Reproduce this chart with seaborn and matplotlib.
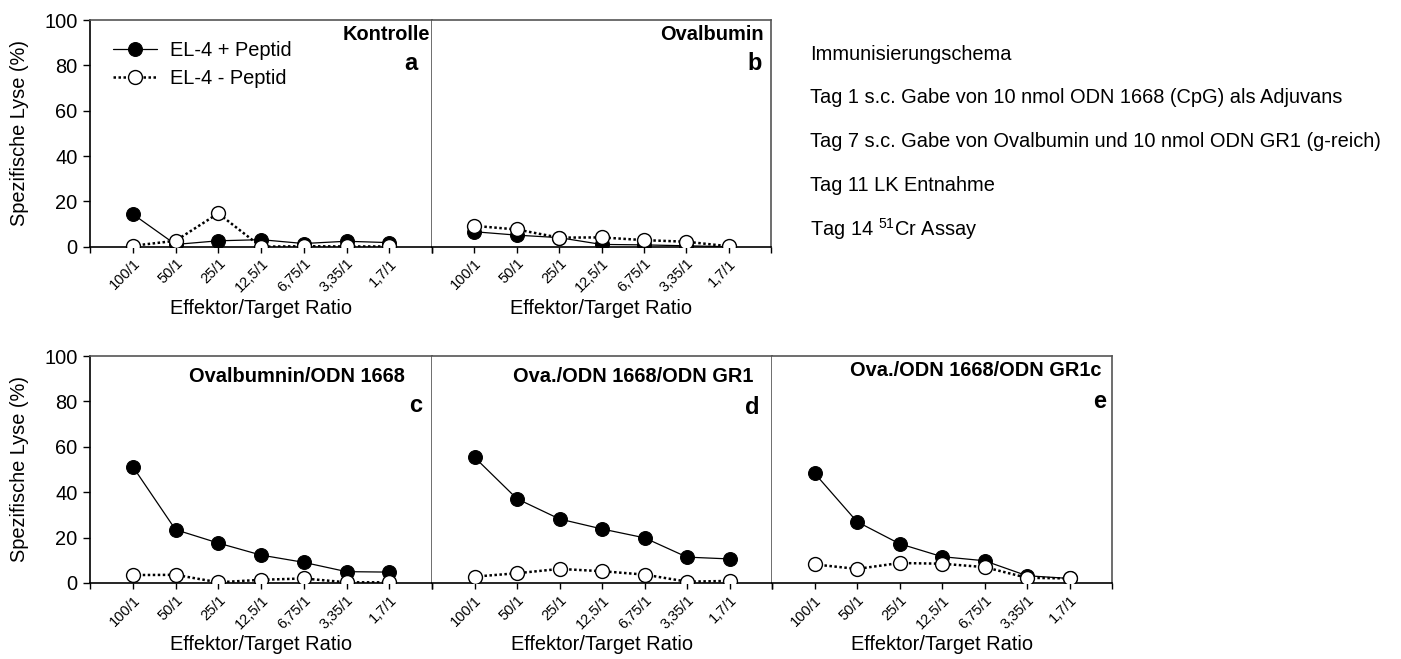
import pandas as pd
import numpy as np
import matplotlib
matplotlib.use("Agg")
import matplotlib.pyplot as plt
import seaborn as sns

sns.set_style("white")
plt.rcParams['font.family'] = ['Liberation Sans', 'DejaVu Sans']
plt.rcParams['mathtext.fontset'] = 'custom'
plt.rcParams['mathtext.rm'] = 'Liberation Sans'
plt.rcParams['mathtext.it'] = 'Liberation Sans'
for key in ['text.color', 'axes.labelcolor', 'xtick.color', 'ytick.color']:
    plt.rcParams[key] = 'black'

# Effector/target ratios on the x axis
ratios = ["100/1", "50/1", "25/1", "12,5/1", "6,75/1", "3,35/1", "1,7/1"]

# Specific lysis (%) with peptide (filled) and without peptide (open)
a_plus = [14.4, 1.0, 2.6, 3.1, 1.4, 2.4, 1.8]
a_minus = [0.4, 2.6, 14.7, 0.0, 0.2, 0.1, 0.1]
b_plus = [6.6, 5.1, 4.0, 1.0, 0.8, 0.4, 0.0]
b_minus = [9.2, 7.6, 4.0, 4.1, 2.9, 2.2, 0.2]
c_plus = [51.3, 23.5, 17.6, 12.3, 9.1, 5.0, 4.8]
c_minus = [3.5, 3.6, 0.3, 1.4, 2.0, 0.3, 0.3]
d_plus = [55.4, 37.1, 28.2, 23.8, 19.9, 11.4, 10.6]
d_minus = [2.8, 4.3, 6.2, 5.2, 3.7, 0.6, 0.9]
e_plus = [48.4, 27.0, 17.3, 11.6, 9.8, 3.2, 2.0]
e_minus = [8.2, 6.2, 8.8, 8.5, 7.0, 2.3, 2.0]

titles = ["Kontrolle", "Ovalbumin", "Ovalbumnin/ODN 1668",
          "Ova./ODN 1668/ODN GR1", "Ova./ODN 1668/ODN GR1c"]
letters = ["a", "b", "c", "d", "e"]
series = [(a_plus, a_minus), (b_plus, b_minus), (c_plus, c_minus),
          (d_plus, d_minus), (e_plus, e_minus)]

schema = ["Immunisierungschema",
          "Tag 1 s.c. Gabe von 10 nmol ODN 1668 (CpG) als Adjuvans",
          "Tag 7 s.c. Gabe von Ovalbumin und 10 nmol ODN GR1 (g-reich)",
          "Tag 11 LK Entnahme",
          r"Tag 14 $^{51}$Cr Assay"]

W, H = 1401, 659
fig = plt.figure(figsize=(W / 100, H / 100), dpi=100)

def px_axes(x0, x1, y0, y1):
    return fig.add_axes([x0 / W, 1 - y1 / H, (x1 - x0) / W, (y1 - y0) / H])

# panel boxes in pixels (left, right, top, bottom) and x-label top in pixels
boxes = [(90, 432, 20, 246.7), (432, 771, 20, 246.7),
         (90, 432, 356, 583), (432, 772, 356, 583), (772, 1112, 356, 583)]
xlabel_top = [299, 299, 635, 635, 635]
# title / letter anchor points in pixels (right edge, centre y)
title_pos = [(430, 35), (764, 35), (405, 377), (753, 377), (1102, 371)]
letter_pos = [(417, 63), (762, 63), (422, 406), (760, 408), (1106, 402)]

pos = np.arange(1, len(ratios) + 1)
FS = 14.4

for i, (box, (plus, minus)) in enumerate(zip(boxes, series)):
    ax = px_axes(*box)
    df = pd.DataFrame({"pos": pos, "plus": plus, "minus": minus})
    sns.lineplot(data=df, x="pos", y="plus", ax=ax, color="black", lw=0.9,
                 marker="o", markersize=10, markerfacecolor="black",
                 markeredgecolor="black", label="EL-4 + Peptid", zorder=3)
    sns.lineplot(data=df, x="pos", y="minus", ax=ax, color="black", lw=1.8,
                 linestyle=(0, (1, 1)), marker="o", markersize=10,
                 markerfacecolor="white", markeredgecolor="black",
                 markeredgewidth=1.0, label="EL-4 - Peptid", zorder=4)
    ax.set_xlim(0, 8)
    ax.set_ylim(0, 100)
    ax.set_xticks(range(0, 9))
    ax.set_xticklabels([""] + ratios + [""], rotation=45, ha="right",
                       rotation_mode="anchor", fontsize=10.5)
    ax.tick_params(axis="x", direction="out", length=4, width=1, pad=3,
                   bottom=True)
    ax.set_xlabel("Effektor/Target Ratio", fontsize=FS)
    h = box[3] - box[2]
    ax.xaxis.set_label_coords(0.5, -(xlabel_top[i] - box[3]) / h)

    for s in ["top", "right", "left"]:
        ax.spines[s].set_color("#555555")
        ax.spines[s].set_linewidth(1.2)
    ax.spines["bottom"].set_color("black")
    ax.spines["bottom"].set_linewidth(1.2)

    if i in (0, 2):
        ax.set_yticks([0, 20, 40, 60, 80, 100])
        ax.tick_params(axis="y", direction="out", length=5, width=1,
                       left=True, labelsize=FS, pad=4)
        ax.spines["left"].set_color("black")
        ax.set_ylabel("Spezifische Lyse (%)", fontsize=FS)
        ax.yaxis.set_label_coords((29 - 90) / 342, 0.5)
    else:
        ax.spines["left"].set_visible(False)
        ax.set_yticks([])
        ax.set_ylabel("")

    if i == 0:
        ax.legend(loc="upper left", bbox_to_anchor=(23 / 342, (246.7 - 41) / 226.7),
                  frameon=False, fontsize=FS, handlelength=2.2,
                  handletextpad=0.65, labelspacing=0.45, borderaxespad=0,
                  borderpad=0)
    else:
        leg = ax.get_legend()
        if leg is not None:
            leg.remove()

for i in range(len(titles)):
    tx, ty = title_pos[i]
    fig.text(tx / W, 1 - ty / H, titles[i], ha="right", va="center",
             fontsize=FS, fontweight="bold")
    lx, ly = letter_pos[i]
    fig.text(lx / W, 1 - ly / H, letters[i], ha="right", va="center",
             fontsize=17, fontweight="bold")

for k, line in enumerate(schema):
    fig.text(810 / W, 1 - (54 + 43.8 * k) / H, line, ha="left", va="center",
             fontsize=FS)

fig.savefig("out.png", dpi=100)
